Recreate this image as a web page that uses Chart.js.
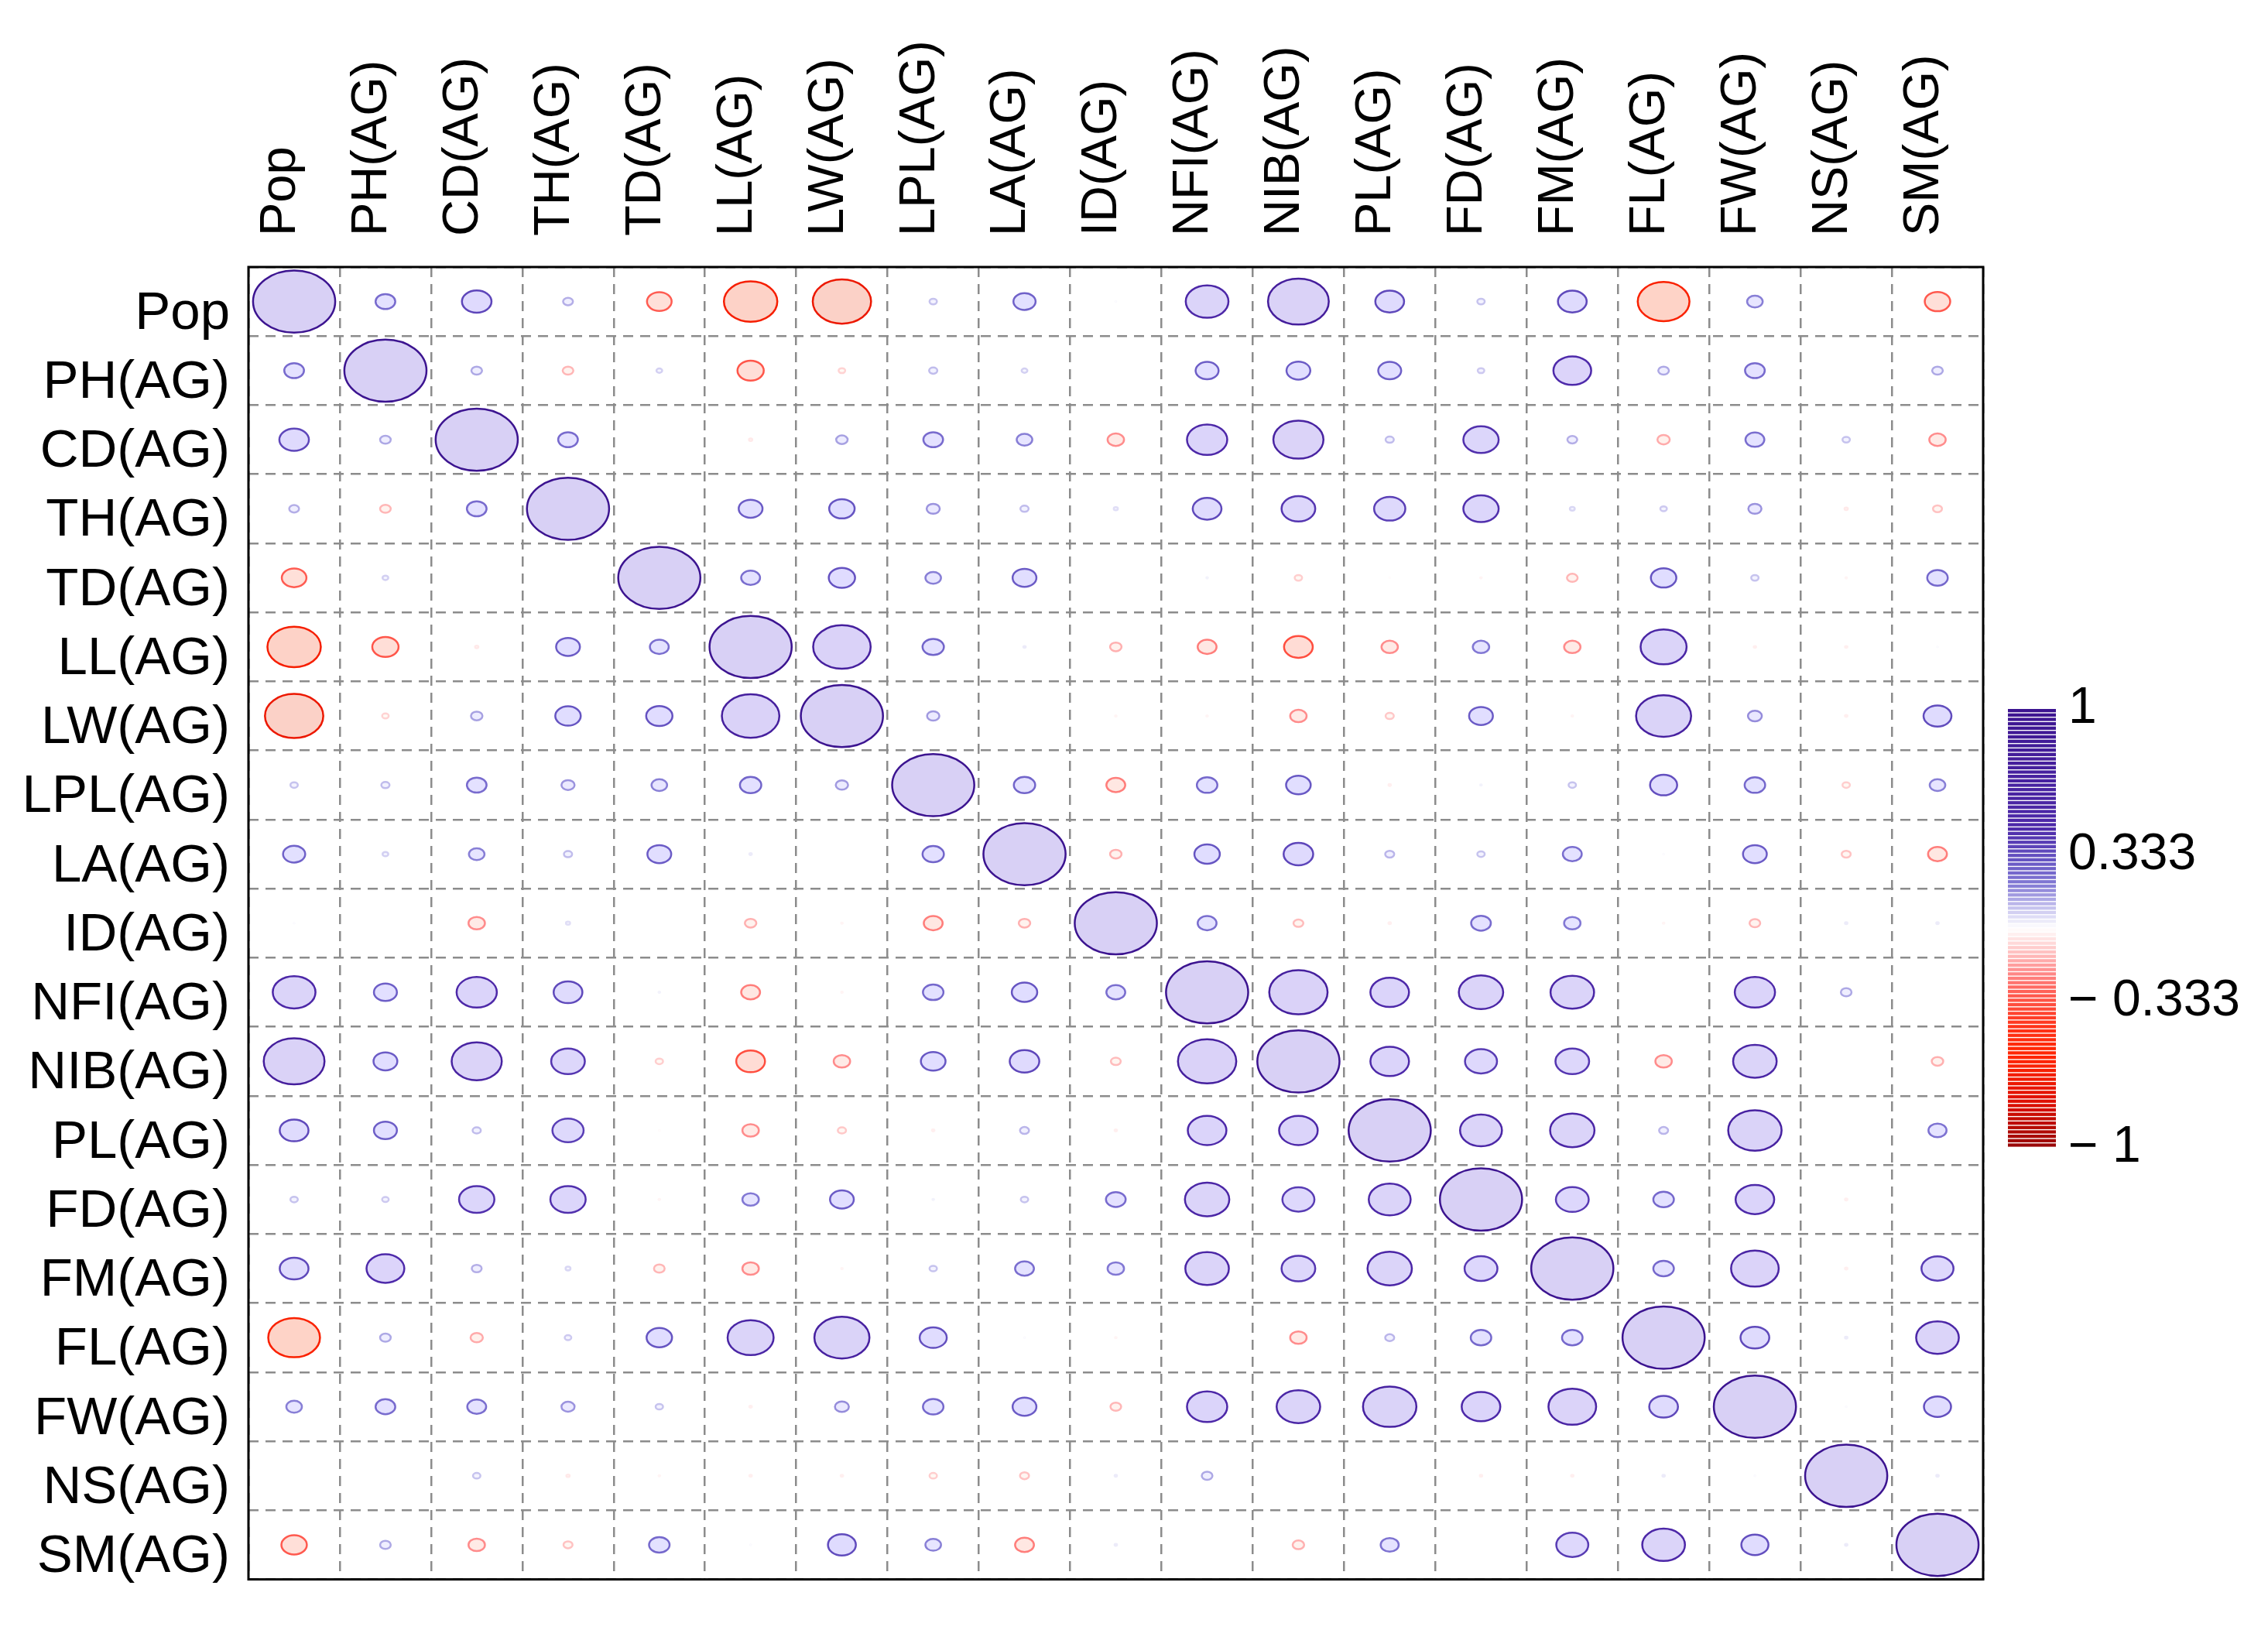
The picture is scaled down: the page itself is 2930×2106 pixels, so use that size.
<!DOCTYPE html>
<html>
<head>
<meta charset="utf-8">
<script src="https://cdn.jsdelivr.net/npm/chart.js@4.4.0/dist/chart.umd.min.js"></script>
<style>
  html, body { margin: 0; padding: 0; background: #fff; }
  #wrap { width: 2930px; height: 2106px; }
</style>
</head>
<body>
<div id="wrap"><canvas id="corr"></canvas></div>
<script>
const vars = ['Pop', 'PH(AG)', 'CD(AG)', 'TH(AG)', 'TD(AG)', 'LL(AG)', 'LW(AG)', 'LPL(AG)', 'LA(AG)', 'ID(AG)',
  'NFI(AG)', 'NIB(AG)', 'PL(AG)', 'FD(AG)', 'FM(AG)', 'FL(AG)', 'FW(AG)', 'NS(AG)', 'SM(AG)'];

// one row of the correlation matrix per variable, columns in the order of vars
const rPop = [1, 0.24, 0.36, 0.12, -0.30, -0.65, -0.71, 0.09, 0.27, 0.01, 0.52, 0.74, 0.35, 0.09, 0.35, -0.63, 0.19, 0, -0.31];
const rPH  = [0.24, 1, 0.13, -0.13, 0.07, -0.32, -0.08, 0.10, 0.07, 0, 0.28, 0.29, 0.28, 0.08, 0.46, 0.13, 0.24, 0, 0.13];
const rCD  = [0.36, 0.13, 1, 0.24, 0, -0.04, 0.14, 0.24, 0.19, -0.20, 0.49, 0.61, 0.10, 0.43, 0.12, -0.15, 0.23, 0.09, -0.20];
const rTH  = [0.12, -0.13, 0.24, 1, 0, 0.29, 0.31, 0.16, 0.10, 0.05, 0.35, 0.41, 0.38, 0.43, 0.06, 0.08, 0.16, -0.04, -0.11];
const rTD  = [-0.30, 0.07, 0, 0, 1, 0.23, 0.32, 0.19, 0.29, 0, 0.02, -0.09, -0.01, -0.02, -0.13, 0.31, 0.09, -0.02, 0.25];
const rLL  = [-0.65, -0.32, -0.04, 0.29, 0.23, 1, 0.70, 0.26, 0.03, -0.14, -0.23, -0.35, -0.20, 0.20, -0.20, 0.56, -0.03, -0.03, 0.01];
const rLW  = [-0.71, -0.08, 0.14, 0.31, 0.32, 0.70, 1, 0.15, 0, -0.02, -0.02, -0.20, -0.10, 0.29, -0.02, 0.67, 0.17, -0.03, 0.34];
const rLPL = [0.09, 0.10, 0.24, 0.16, 0.19, 0.26, 0.15, 1, 0.26, -0.23, 0.25, 0.30, -0.03, 0.02, 0.09, 0.33, 0.25, -0.09, 0.19];
const rLA  = [0.27, 0.07, 0.19, 0.10, 0.29, 0.03, 0, 0.26, 1, -0.14, 0.31, 0.36, 0.11, 0.09, 0.23, 0.01, 0.29, -0.11, -0.23];
const rID  = [0.01, 0, -0.20, 0.05, 0, -0.14, -0.02, -0.23, -0.14, 1, 0.23, -0.12, -0.03, 0.24, 0.20, -0.02, -0.13, 0.03, 0.03];
const rNFI = [0.52, 0.28, 0.49, 0.35, 0.02, -0.23, -0.02, 0.25, 0.31, 0.23, 1, 0.71, 0.47, 0.54, 0.53, 0, 0.49, 0.13, 0];
const rNIB = [0.74, 0.29, 0.61, 0.41, -0.09, -0.35, -0.20, 0.30, 0.36, -0.12, 0.71, 1, 0.47, 0.39, 0.41, -0.20, 0.53, 0, -0.14];
const rPL  = [0.35, 0.28, 0.10, 0.38, -0.01, -0.20, -0.10, -0.03, 0.11, -0.03, 0.47, 0.47, 1, 0.51, 0.54, 0.11, 0.65, 0, 0.22];
const rFD  = [0.09, 0.08, 0.43, 0.43, -0.02, 0.20, 0.29, 0.02, 0.09, 0.24, 0.54, 0.39, 0.51, 1, 0.40, 0.25, 0.47, -0.03, 0];
const rFM  = [0.35, 0.46, 0.12, 0.06, -0.13, -0.20, -0.02, 0.09, 0.23, 0.20, 0.53, 0.41, 0.54, 0.40, 1, 0.25, 0.58, -0.03, 0.39];
const rFL  = [-0.63, 0.13, -0.15, 0.08, 0.31, 0.56, 0.67, 0.33, 0.01, -0.02, 0, -0.20, 0.11, 0.25, 0.25, 1, 0.35, 0.03, 0.52];
const rFW  = [0.19, 0.24, 0.23, 0.16, 0.09, -0.03, 0.17, 0.25, 0.29, -0.13, 0.49, 0.53, 0.65, 0.47, 0.58, 0.35, 1, 0.01, 0.33];
const rNS  = [0, 0, 0.09, -0.04, -0.02, -0.03, -0.03, -0.09, -0.11, 0.03, 0.13, 0, 0, -0.03, -0.03, 0.03, 0.01, 1, 0.03];
const rSM  = [-0.31, 0.13, -0.20, -0.11, 0.25, 0.01, 0.34, 0.19, -0.23, 0.03, 0, -0.14, 0.22, 0, 0.39, 0.52, 0.33, 0.03, 1];

const corr = [rPop, rPH, rCD, rTH, rTD, rLL, rLW, rLPL, rLA, rID, rNFI, rNIB, rPL, rFD, rFM, rFL, rFW, rNS, rSM];

const legendTicks = [1, 0.333, -0.333, -1];
const legendLabels = ['1', '0.333', '\u2212 0.333', '\u2212 1'];

const FONT = "'Liberation Sans', Arial, sans-serif";

// red - white - purple ramp
const stops = [
  [-1, [150, 8, 8]], [-0.8, [220, 14, 0]], [-0.6, [255, 36, 0]], [-0.45, [255, 50, 24]],
  [-0.3, [255, 92, 82]], [-0.2, [255, 140, 140]], [-0.1, [255, 200, 200]], [0, [255, 255, 255]],
  [0.1, [192, 188, 236]], [0.2, [130, 120, 212]], [0.3, [104, 88, 196]], [0.45, [78, 42, 170]],
  [1, [60, 20, 144]]
];
function rampRGB(v) {
  v = Math.max(-1, Math.min(1, v));
  for (let k = 1; k < stops.length; k++) {
    if (v <= stops[k][0]) {
      const [v0, c0] = stops[k - 1];
      const [v1, c1] = stops[k];
      const t = (v - v0) / (v1 - v0);
      return c0.map((c, i) => Math.round(c + (c1[i] - c) * t));
    }
  }
  return stops[stops.length - 1][1];
}
const rgb = (c) => `rgb(${c[0]},${c[1]},${c[2]})`;
const tint = (c, a) => c.map((x) => Math.round(255 - (255 - x) * a));
// fill is a pale wash of the border colour, a little bluer / more orange like the original
const fillOf = (c, r) => r < 0
  ? rgb(tint([c[0], Math.min(255, c[1] + 20), c[2]], 0.22))
  : rgb(tint([c[0], c[1], Math.min(255, c[2] + 60)], 0.2));

const points = [];
corr.forEach((row, i) => row.forEach((r, j) => points.push({ x: j, y: i, r })));

const ellipsePlugin = {
  id: 'ellipses',
  afterDatasetsDraw(chart) {
    const { ctx, scales: { x, y } } = chart;
    const cw = Math.abs(x.getPixelForValue(1) - x.getPixelForValue(0));
    const ch = Math.abs(y.getPixelForValue(1) - y.getPixelForValue(0));
    const meta = chart.getDatasetMeta(0);
    ctx.save();
    meta.data.forEach((el, k) => {
      const r = points[k].r;
      if (Math.abs(r) < 0.005) return;
      const c = rampRGB(r);
      ctx.beginPath();
      ctx.ellipse(el.x, el.y, 0.45 * Math.abs(r) * cw, 0.45 * Math.abs(r) * ch, 0, 0, Math.PI * 2);
      ctx.fillStyle = fillOf(c, r);
      ctx.fill();
      ctx.lineWidth = 2.5;
      ctx.strokeStyle = rgb(c);
      ctx.stroke();
    });
    ctx.restore();
  }
};

const framePlugin = {
  id: 'frame',
  afterDraw(chart) {
    const { ctx, chartArea: a } = chart;
    ctx.save();
    ctx.lineWidth = 3;
    ctx.strokeStyle = '#000';
    ctx.strokeRect(a.left, a.top, a.right - a.left, a.bottom - a.top);
    ctx.restore();
  }
};

const colorbarPlugin = {
  id: 'colorbar',
  afterDraw(chart) {
    const { ctx, chartArea: a } = chart;
    const left = a.right + 32, top = a.top + 571, w = 62, h = 567;
    const n = 100;
    ctx.save();
    for (let k = 0; k < n; k++) {
      const v = 1 - ((k + 0.5) * 2) / n;
      ctx.fillStyle = rgb(rampRGB(v));
      ctx.fillRect(left, top + (k * h) / n, w, h / n - 1.4);
    }
    ctx.fillStyle = '#000';
    ctx.font = `66px ${FONT}`;
    ctx.textAlign = 'left';
    ctx.textBaseline = 'middle';
    legendTicks.forEach((t, i) => {
      ctx.fillText(legendLabels[i], left + w + 16, top + ((1 - t) / 2) * h);
    });
    ctx.restore();
  }
};

new Chart(document.getElementById('corr'), {
  type: 'scatter',
  data: { datasets: [{ data: points, pointRadius: 0, pointHoverRadius: 0 }] },
  options: {
    responsive: true,
    maintainAspectRatio: false,
    animation: false,
    events: [],
    layout: { padding: { left: 0, top: 0, right: 368, bottom: 48 } },
    plugins: { legend: { display: false }, tooltip: { enabled: false } },
    scales: {
      x: {
        type: 'linear', position: 'top', min: -0.5, max: 18.5,
        afterBuildTicks: (s) => { s.ticks = vars.map((_, i) => ({ value: i })); },
        afterFit: (s) => { s.height = 345; },
        ticks: {
          autoSkip: false, minRotation: 90, maxRotation: 90, padding: 40, labelOffset: 61,
          color: '#000', font: { family: FONT, size: 65 },
          callback: (v) => vars[v]
        },
        grid: { offset: true, color: '#8c8c8c', lineWidth: 2.5, drawTicks: false },
        border: { display: false, dash: [13, 9] }
      },
      y: {
        type: 'linear', reverse: true, min: -0.5, max: 18.5,
        afterBuildTicks: (s) => { s.ticks = vars.map((_, i) => ({ value: i })); },
        afterFit: (s) => { s.width = 321; },
        ticks: {
          autoSkip: false, padding: 24, labelOffset: 16,
          color: '#000', font: { family: FONT, size: 69 },
          callback: (v) => vars[v]
        },
        grid: { offset: true, color: '#8c8c8c', lineWidth: 2.5, drawTicks: false },
        border: { display: false, dash: [13, 9] }
      }
    }
  },
  plugins: [ellipsePlugin, framePlugin, colorbarPlugin]
});
</script>
</body>
</html>
